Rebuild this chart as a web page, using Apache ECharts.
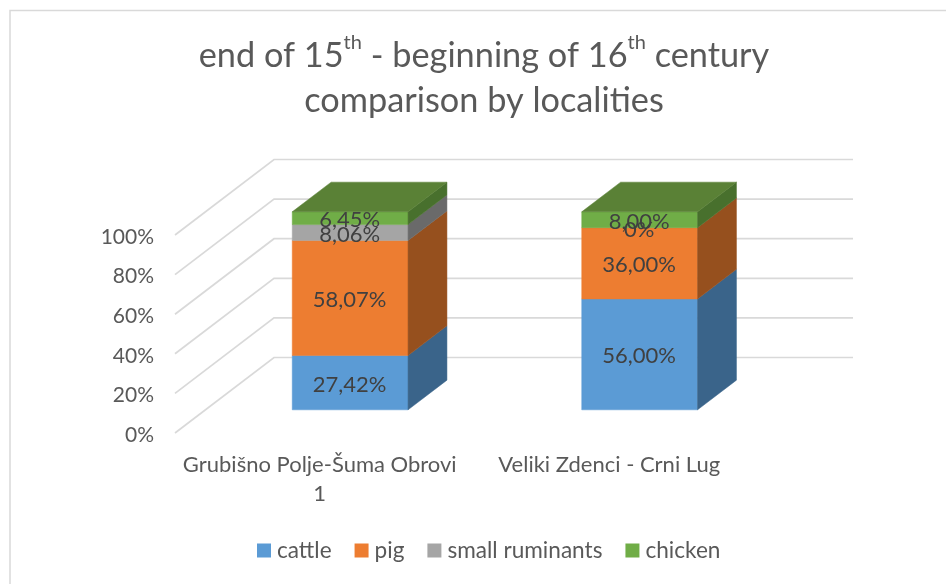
<!DOCTYPE html>
<html>
<head>
<meta charset="utf-8">
<style>html,body{margin:0;padding:0;background:#fff}#c{width:946px;height:584px}</style>
<script src="https://cdn.jsdelivr.net/npm/echarts@6/dist/echarts.min.js"></script>
</head>
<body>
<div id="c"></div>
<script>
const categories = ['Grubišno Polje-Šuma Obrovi 1', 'Veliki Zdenci - Crni Lug'];
const seriesNames = ['cattle', 'pig', 'small ruminants', 'chicken'];
const cattle = [27.42, 56.00];
const pig = [58.07, 36.00];
const smallRuminants = [8.06, 0];
const chicken = [6.45, 8.00];
const axisTicks = [0, 20, 40, 60, 80, 100];

const seriesValues = [cattle, pig, smallRuminants, chicken];
const frontColors = ['#5B9BD5', '#ED7D31', '#A5A5A5', '#70AD47'];
const sideColors = ['#3A648A', '#96501E', '#6A6A6A', '#48702D'];
const topColors = ['#4A7DAB', '#BD6427', '#848484', '#5A8136'];

const FONT = 'Lato, "Open Sans", sans-serif';
const WALL_DX = 99, WALL_DY = -75.5;   // floor depth in pixels
const BAR_FRONT = 0.307, BAR_BACK = 0.70; // bar position within the depth
const BAR_RATIO = 0.4;
const PLANE_LIFT = -2; // the drawn floor sits slightly above the tick-label baseline

function fmt(v) {
  return v === 0 ? '0%' : v.toFixed(2).replace('.', ',') + '%';
}

function poly(points, fill, z2) {
  return { type: 'polygon', shape: { points }, z2,
           style: { fill, stroke: fill, lineWidth: 0.5 } };
}

function renderSegment(sIdx) {
  return function (params, api) {
    const cat = api.value(0), from = api.value(1), to = api.value(2), val = api.value(3);
    const band = api.size([1, 0])[0];
    const w = band * BAR_RATIO;
    const p0 = api.coord([cat, from]);
    const p1 = api.coord([cat, to]);
    const fx = BAR_FRONT * WALL_DX, fy = BAR_FRONT * WALL_DY + PLANE_LIFT;
    const d = BAR_BACK - BAR_FRONT;
    const bx = d * WALL_DX, by = d * WALL_DY;
    const L = p0[0] + fx - w / 2, R = L + w;
    const B = p0[1] + fy, T = p1[1] + fy;
    const children = [];
    if (val > 0) {
      children.push(poly([[L, B], [R, B], [R, T], [L, T]], frontColors[sIdx], 10));
      children.push(poly([[R, B], [R + bx, B + by], [R + bx, T + by], [R, T]], sideColors[sIdx], 10));
      if (to >= 99.99) {
        children.push(poly([[L, T], [R, T], [R + bx, T + by], [L + bx, T + by]], topColors[sIdx], 11));
      }
    }
    children.push({
      type: 'text', z2: 50,
      style: { text: fmt(val), x: (L + R) / 2 - 0.5, y: (B + T) / 2 + 2,
               align: 'center', verticalAlign: 'middle',
               font: '22px ' + FONT, fill: '#404040' }
    });
    return { type: 'group', children };
  };
}

function renderGridLine(params, api) {
  const v = api.value(0);
  const a = api.coord([0, v]);
  const left = params.coordSys.x;
  const right = left + params.coordSys.width;
  const y = a[1] + PLANE_LIFT;
  return {
    type: 'polyline', z2: 1,
    shape: { points: [[left, y], [left + WALL_DX, y + WALL_DY], [right + WALL_DX, y + WALL_DY]] },
    style: { fill: 'none', stroke: '#D9D9D9', lineWidth: 1.7 }
  };
}

const series = [{
  type: 'custom', name: 'walls', silent: true,
  coordinateSystem: 'cartesian2d',
  renderItem: renderGridLine,
  encode: { y: 0 },
  data: axisTicks.map(t => [t])
}];

seriesNames.forEach((name, s) => {
  const data = categories.map((c, i) => {
    let start = 0;
    for (let k = 0; k < s; k++) start += seriesValues[k][i];
    return [i, start, start + seriesValues[s][i], seriesValues[s][i]];
  });
  series.push({
    type: 'custom', name, coordinateSystem: 'cartesian2d',
    renderItem: renderSegment(s),
    itemStyle: { color: frontColors[s] },
    encode: { x: 0, y: [1, 2] },
    data
  });
});

const chart = echarts.init(document.getElementById('c'), null, { renderer: 'canvas' });
chart.setOption({
  animation: false,
  backgroundColor: '#fff',
  title: {
    left: 479, top: 28, textAlign: 'center',
    text: '{a|end of 15}{s|th}{a| - beginning of 16}{s|th}{a| century}\n{a|comparison by localities}',
    textStyle: {
      fontWeight: 'normal',
      rich: {
        a: { fontFamily: FONT, fontSize: 34.3, fontWeight: 'normal', color: '#595959', lineHeight: 45 },
        s: { fontFamily: FONT, fontSize: 20, fontWeight: 'normal', color: '#595959', lineHeight: 45, verticalAlign: 'top' }
      }
    }
  },
  legend: {
    data: seriesNames, left: 252, top: 534,
    icon: 'rect', itemWidth: 14, itemHeight: 14, itemGap: 23,
    textStyle: { fontFamily: FONT, fontSize: 22.6, color: '#595959', padding: [0, 0, 0, 1] }
  },
  grid: { left: 175, width: 579, top: 237, height: 198, containLabel: false },
  xAxis: {
    type: 'category', data: categories,
    axisLine: { show: false }, axisTick: { show: false },
    axisLabel: {
      interval: 0, fontFamily: FONT, fontSize: 22, color: '#595959',
      margin: 15, lineHeight: 29,
      formatter: (v) => v.replace(/ 1$/, '\n1')
    }
  },
  yAxis: {
    type: 'value', min: 0, max: 100, interval: 20,
    splitLine: { show: false }, axisLine: { show: false }, axisTick: { show: false },
    axisLabel: { formatter: '{value}%', fontFamily: FONT, fontSize: 21, color: '#595959', margin: 21 }
  },
  graphic: [{
    type: 'rect', z: -1, silent: true,
    shape: { x: 10, y: 10.5, width: 1000, height: 1000 },
    style: { fill: 'none', stroke: '#D9D9D9', lineWidth: 1.5 }
  }],
  series
});
</script>
</body>
</html>
